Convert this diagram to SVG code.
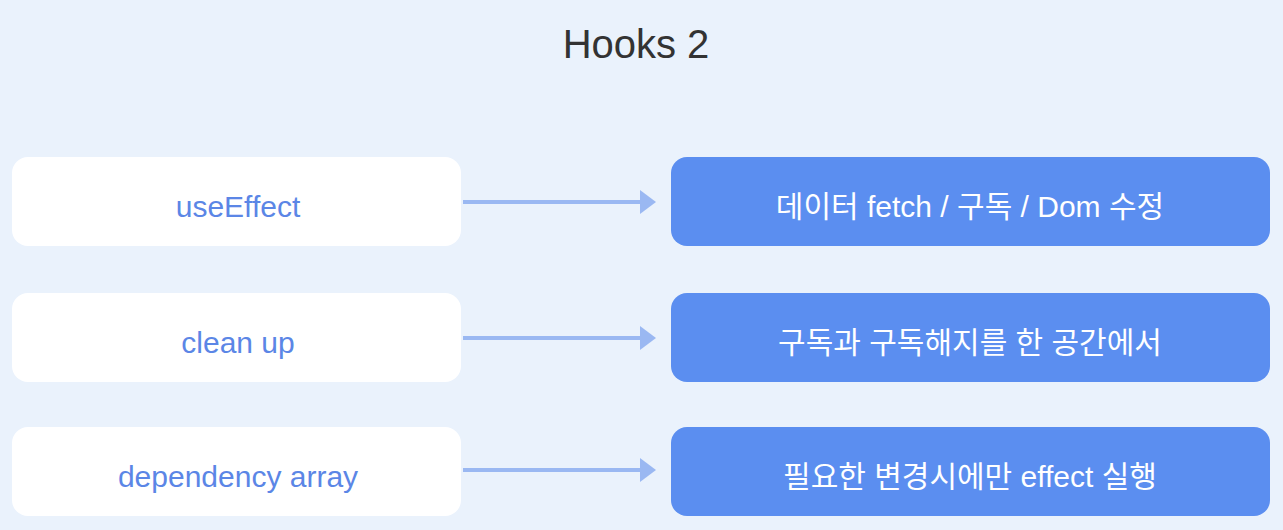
<svg xmlns="http://www.w3.org/2000/svg" width="1283" height="530" viewBox="0 0 1283 530">
<style>
.l{fill:#fff}
.r{fill:#5b8ef0}
.lt{font-family:"Liberation Sans",Arial,sans-serif;font-size:30px;fill:#5b86e6;text-anchor:middle}
.rt{font-family:"Liberation Sans","Noto Sans CJK KR",sans-serif;font-size:30px;fill:#fff;text-anchor:middle}
.c{stroke:#9ab8f2;stroke-width:4;fill:none}
</style>
<defs><marker id="a" markerWidth="6" markerHeight="6" refX="3" refY="3" orient="auto" markerUnits="strokeWidth"><path d="M0,0 L4,3 L0,6 Z" fill="#9ab8f2"/></marker></defs>
<rect width="1283" height="530" fill="#eaf2fc"/>
<text x="636" y="58" font-family="Liberation Sans,Arial,sans-serif" font-size="40" fill="#333" text-anchor="middle">Hooks 2</text>
<g id="connectors">
<line class="c" x1="463" y1="202" x2="652" y2="202" marker-end="url(#a)"/>
<line class="c" x1="463" y1="338" x2="652" y2="338" marker-end="url(#a)"/>
<line class="c" x1="463" y1="470" x2="652" y2="470" marker-end="url(#a)"/>
</g>
<g id="n1"><rect class="l" x="12" y="157" width="449" height="89" rx="16"/><text class="lt" x="238" y="217">useEffect</text></g>
<g id="n2"><rect class="l" x="12" y="293" width="449" height="89" rx="16"/><text class="lt" x="238" y="353">clean up</text></g>
<g id="n3"><rect class="l" x="12" y="427" width="449" height="89" rx="16"/><text class="lt" x="238" y="487">dependency array</text></g>
<g id="n4"><rect class="r" x="671" y="157" width="599" height="89" rx="16"/><text class="rt" x="970" y="217">데이터 fetch / 구독 / Dom 수정</text></g>
<g id="n5"><rect class="r" x="671" y="293" width="599" height="89" rx="16"/><text class="rt" x="970" y="353">구독과 구독해지를 한 공간에서</text></g>
<g id="n6"><rect class="r" x="671" y="427" width="599" height="89" rx="16"/><text class="rt" x="970" y="487">필요한 변경시에만 effect 실행</text></g>
</svg>
